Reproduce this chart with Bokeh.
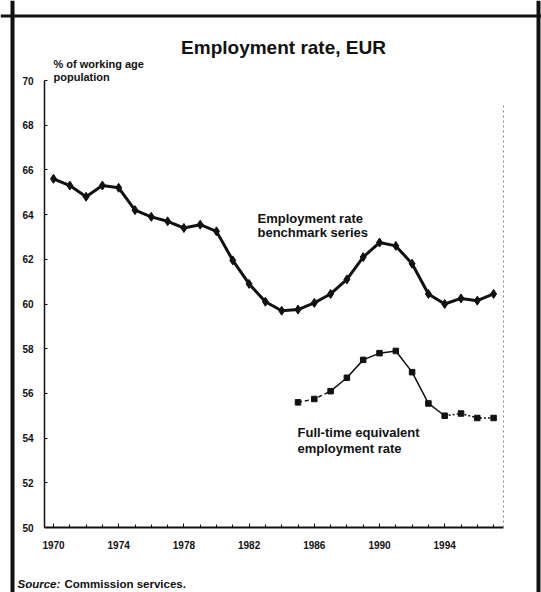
from bokeh.plotting import figure
from bokeh.models import Label, Span, FixedTicker, Range1d, LinearAxis
from bokeh.embed import file_html
from bokeh.resources import INLINE

# ---- data ----
years = list(range(1970, 1998))
benchmark = [65.6, 65.3, 64.8, 65.3, 65.2, 64.2, 63.9, 63.7, 63.4, 63.55, 63.25,
             61.95, 60.9, 60.1, 59.7, 59.75, 60.05, 60.45, 61.1, 62.1, 62.75,
             62.6, 61.8, 60.45, 60.0, 60.25, 60.15, 60.45]
fte_years = list(range(1985, 1998))
fte = [55.6, 55.75, 56.1, 56.7, 57.5, 57.8, 57.9, 56.95, 55.55, 55.0, 55.1, 54.9, 54.9]

x_ticks = [1970, 1974, 1978, 1982, 1986, 1990, 1994]
y_ticks = [50, 52, 54, 56, 58, 60, 62, 64, 66, 68, 70]

title_text = "Employment rate, EUR"
unit_lines = ["% of working age", "population"]
bench_label = ["Employment rate", "benchmark series"]
fte_label = ["Full-time equivalent", "employment rate"]
source_bold_italic = "Source:"
source_rest = "Commission services."

FONT = "Liberation Sans"
INK = "#111111"

# ---- geometry: pixels of the reference picture ----
W, H = 541, 592
PAGE0 = 0
PX_PER_YEAR = 16.3
X_1970_PX = 53
PX_PER_UNIT = 22.35
Y_50_PX = 527

XS = 1970 - (X_1970_PX - PAGE0) / PX_PER_YEAR
XE = XS + W / PX_PER_YEAR
YS = 50 - (PAGE0 + H - Y_50_PX) / PX_PER_UNIT
YE = YS + H / PX_PER_UNIT


def dx(px):
    return XS + (px - PAGE0) / PX_PER_YEAR


def dy(py):
    return YS + (PAGE0 + H - py) / PX_PER_UNIT


PLOT_L, PLOT_R = dx(44), dx(503)

p = figure(width=W, height=H, min_border=0,
           x_range=Range1d(XS, XE), y_range=Range1d(YS, YE),
           output_backend="svg", toolbar_location=None)
p.title.visible = False
p.outline_line_color = None
p.xgrid.visible = False
p.ygrid.visible = False
p.background_fill_color = "white"
p.border_fill_color = "white"

# x axis (drawn at y = 50)
xa = p.xaxis[0]
xa.fixed_location = 50
xa.bounds = (PLOT_L, PLOT_R)
xa.ticker = FixedTicker(ticks=x_ticks, minor_ticks=years)
xa.axis_line_width = 2
xa.axis_line_color = INK
xa.major_tick_in = 4
xa.major_tick_out = 0
xa.minor_tick_in = 3
xa.minor_tick_out = 0
xa.major_tick_line_color = INK
xa.minor_tick_line_color = INK
xa.major_label_text_font = FONT
xa.major_label_text_font_style = "bold"
xa.major_label_text_font_size = "10px"
xa.major_label_text_color = INK
xa.major_label_standoff = 13

# y axis (drawn at the left edge of the plot area)
ya = p.yaxis[0]
ya.fixed_location = PLOT_L
ya.bounds = (50, 70)
ya.ticker = FixedTicker(ticks=y_ticks)
ya.axis_line_width = 1.5
ya.axis_line_color = INK
ya.major_tick_in = 3
ya.major_tick_out = 0
ya.minor_tick_line_color = None
ya.major_tick_line_color = INK
ya.major_label_text_font = FONT
ya.major_label_text_font_style = "bold"
ya.major_label_text_font_size = "10px"
ya.major_label_text_color = INK
ya.major_label_standoff = 11

# dotted right edge of the plot area (an axis with no ticks)
ra = LinearAxis(fixed_location=PLOT_R, bounds=(50, 69),
                ticker=FixedTicker(ticks=[], minor_ticks=[]),
                axis_line_color="#8a8a8a", axis_line_dash="2 3", axis_line_width=1,
                major_tick_line_color=None, minor_tick_line_color=None)
p.add_layout(ra, "right")

# outer frame of the chart
p.add_layout(Span(location=dx(12), dimension="height", line_color=INK, line_width=4))
p.add_layout(Span(location=dy(15.5), dimension="width", line_color=INK, line_width=3))
p.add_layout(Span(location=dx(538), dimension="height", line_color=INK, line_width=4))

# benchmark series
p.line(years, benchmark, line_color=INK, line_width=3)
p.scatter(years, benchmark, marker="diamond", size=9, color=INK)

# full-time equivalent series
p.line(fte_years[:3], fte[:3], line_color=INK, line_width=1.5, line_dash="4 3")
p.line(fte_years[2:10], fte[2:10], line_color=INK, line_width=1.5)
p.line(fte_years[9:], fte[9:], line_color=INK, line_width=1.5, line_dash="2 2")
p.scatter(fte_years, fte, marker="square", size=5.5, color=INK)


def add_text(txt, px, py, size, align="left", style="bold"):
    p.add_layout(Label(x=dx(px), y=dy(py), text=txt, text_font=FONT,
                       text_font_size=size, text_font_style=style,
                       text_align=align, text_baseline="middle",
                       text_color=INK))


add_text(title_text, 283, 47, "19px", align="center")
add_text(unit_lines[0], 53, 63, "11px")
add_text(unit_lines[1], 53, 76, "11px")
add_text(bench_label[0], 257, 218, "13px")
add_text(bench_label[1], 257, 232, "13px")
add_text(fte_label[0], 297, 432, "13px")
add_text(fte_label[1], 297, 448, "13px")
add_text(source_bold_italic, 17, 583, "11.5px", style="bold italic")
add_text(source_rest, 64, 583, "11.5px")

open("out.html", "w").write(file_html(p, INLINE))
